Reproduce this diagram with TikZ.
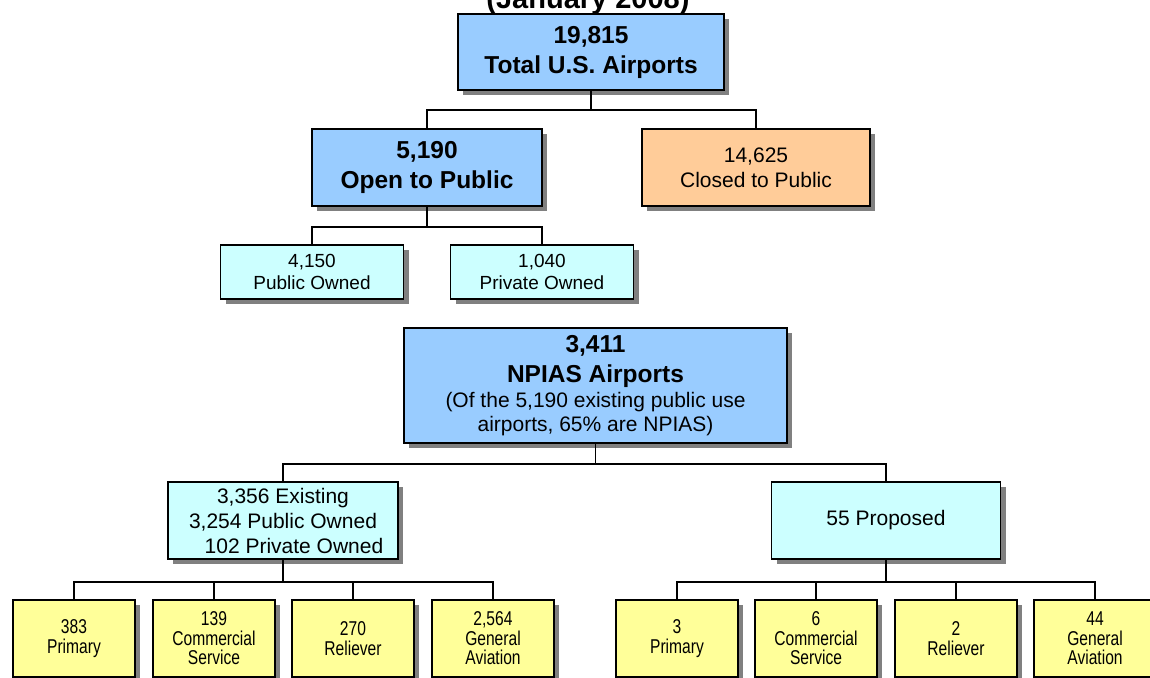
\documentclass[tikz,border=0pt]{standalone}
\usepackage{fontspec}
\setmainfont{Liberation Sans}
\newfontfamily\narrowsans[FakeStretch=0.78]{Liberation Sans}
\usetikzlibrary{shadows}
\definecolor{boxblue}{HTML}{99CCFF}
\definecolor{boxorange}{HTML}{FFCC99}
\definecolor{boxcyan}{HTML}{CCFFFF}
\definecolor{boxyellow}{HTML}{FFFF99}

\begin{document}
\begin{tikzpicture}[x=1pt,y=-1pt,
    box/.style={draw=black,line width=1.5pt,inner sep=0pt,align=center,
        drop shadow={shadow xshift=5pt,shadow yshift=-5pt,fill=black!50,opacity=1}},
    boldtext/.style={font=\fontsize{24.5}{30}\selectfont\bfseries},
    regtext/.style={font=\fontsize{21}{25}\selectfont},
    smalltext/.style={font=\fontsize{19}{21.5}\selectfont},
    leaf/.style={box,fill=boxyellow,minimum width=122,minimum height=77,
        font=\narrowsans\fontsize{20}{19.5}\selectfont},
    link/.style={line width=1.8pt}]
    \useasboundingbox (0,0) rectangle (1150,677);
    \node[font=\fontsize{29}{34}\selectfont\bfseries,anchor=base] (title) at (588,9) {(January 2008)};
    %all airports
    \node[box,boldtext,fill=boxblue,minimum width=266,minimum height=76] (total) at (591,52) {19,815\\Total U.S. Airports};
    \node[box,boldtext,fill=boxblue,minimum width=230,minimum height=77] (open) at (427,167.5) {5,190\\Open to Public};
    \node[box,regtext,fill=boxorange,minimum width=228,minimum height=77] (closed) at (756,167.5) {14,625\\Closed to Public};
    \node[box,smalltext,fill=boxcyan,minimum width=183,minimum height=54] (pubown) at (312,272) {4,150\\Public Owned};
    \node[box,smalltext,fill=boxcyan,minimum width=183,minimum height=54] (privown) at (542,272) {1,040\\Private Owned};
    \draw[link] (total.south) -- ++(0,19) -| (open.north);
    \draw[link] (total.south) -- ++(0,19) -| (closed.north);
    \draw[link] (open.south) -- ++(0,20) -| (pubown.north);
    \draw[link] (open.south) -- ++(0,20) -| (privown.north);
    %NPIAS
    \node[box,boldtext,fill=boxblue,minimum width=383,minimum height=115] (npias) at (595.5,385.5)
        {3,411\\NPIAS Airports\\[-5pt]
        \fontsize{21}{24}\selectfont\mdseries (Of the 5,190 existing public use\\[-6pt]
        \fontsize{21}{24}\selectfont\mdseries airports, 65\% are NPIAS)};
    \node[box,regtext,fill=boxcyan,minimum width=230,minimum height=77] (existing) at (283,520.5)
        {3,356 Existing\\3,254 Public Owned\\\hspace*{22pt}102 Private Owned};
    \node[box,regtext,fill=boxcyan,minimum width=229,minimum height=77] (proposed) at (886,520.5) {55 Proposed};
    \draw[link] (npias.south) -- ++(0,20) -| (existing.north);
    \draw[link] (npias.south) -- ++(0,20) -| (proposed.north);
    %existing
    \node[leaf] (exprim) at (74,638.5) {383\\Primary};
    \node[leaf] (excomm) at (214,638.5) {139\\Commercial\\Service};
    \node[leaf] (exrel) at (353,638.5) {270\\Reliever};
    \node[leaf] (exga) at (493,638.5) {2,564\\General\\Aviation};
    \draw[link] (existing.south) -- ++(0,22) -| (exprim.north);
    \draw[link] (existing.south) -- ++(0,22) -| (excomm.north);
    \draw[link] (existing.south) -- ++(0,22) -| (exrel.north);
    \draw[link] (existing.south) -- ++(0,22) -| (exga.north);
    %proposed
    \node[leaf] (prprim) at (677,638.5) {3\\Primary};
    \node[leaf] (prcomm) at (816,638.5) {6\\Commercial\\Service};
    \node[leaf] (prrel) at (956,638.5) {2\\Reliever};
    \node[leaf] (prga) at (1095,638.5) {44\\General\\Aviation};
    \draw[link] (proposed.south) -- ++(0,22) -| (prprim.north);
    \draw[link] (proposed.south) -- ++(0,22) -| (prcomm.north);
    \draw[link] (proposed.south) -- ++(0,22) -| (prrel.north);
    \draw[link] (proposed.south) -- ++(0,22) -| (prga.north);
\end{tikzpicture}
\end{document}
